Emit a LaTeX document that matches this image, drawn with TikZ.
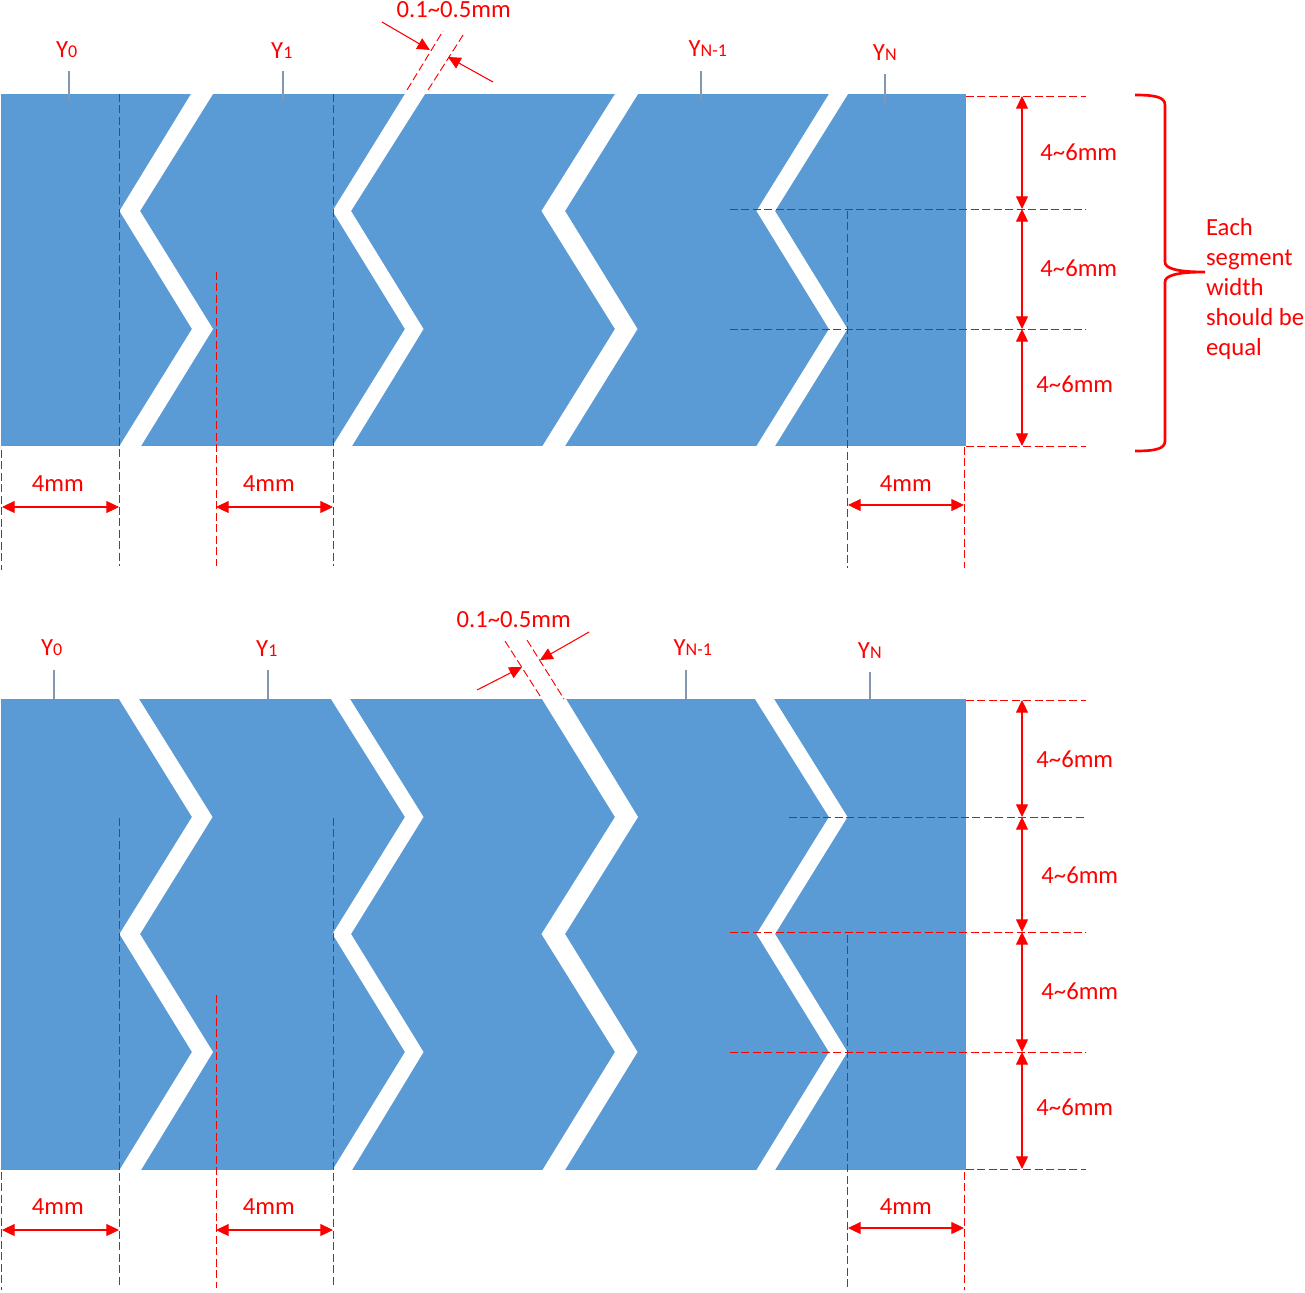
\documentclass[tikz,border=0pt]{standalone}
\usepackage{fontspec}
\setmainfont{Carlito}
\usetikzlibrary{arrows.meta}
\definecolor{StripBlue}{HTML}{5B9BD5}
\definecolor{TickGray}{HTML}{8497B0}
\definecolor{DimRed}{rgb}{1.0,0.0,0.0}
\newcommand{\ysub}[1]{Y{\fontsize{13.5pt}{13.5pt}\selectfont #1}}
\newcommand{\dtilde}{\textasciitilde}
\tikzset{
  lab/.style={text=DimRed,inner sep=0pt,xshift=.6pt,yshift=-.5pt,font=\fontsize{18.5pt}{22.5pt}\selectfont},
  leader/.style={DimRed,line width=.7pt,dash pattern=on 6pt off 2.6pt},
  dim/.style={DimRed,line width=.8pt,{Triangle[length=9.5pt,width=9pt]}-{Triangle[length=9.5pt,width=9pt]}},
  pointer/.style={DimRed,line width=.8pt,-{Triangle[length=9.5pt,width=9pt]}},
  ytick/.style={TickGray,line width=1.1pt},
}

\begin{document}
\begin{tikzpicture}[x=.75pt,y=-.75pt]
\useasboundingbox (0,0) rectangle (1305,1292);

% strips
\fill[StripBlue] (1,94) rectangle (966,446);
\fill[StripBlue] (1,699) rectangle (966,1170);

% gaps of the upper strip
\fill[white] (191,94) -- (119.5,211) -- (192,329) -- (119.5,446) -- (141,446) -- (213,329) -- (140,211) -- (213,94) -- cycle;
\fill[white] (405,94) -- (332.5,211) -- (405,329) -- (332.5,446) -- (352,446) -- (423.5,329) -- (351,211) -- (425,94) -- cycle;
\fill[white] (615,94) -- (541.5,211) -- (615,329) -- (542.5,446) -- (565,446) -- (637.5,329) -- (565,211) -- (638,94) -- cycle;
\fill[white] (829,94) -- (756.5,211) -- (829,329) -- (756.5,446) -- (775,446) -- (847.5,329) -- (775,211) -- (848,94) -- cycle;

% gaps of the lower strip
\fill[white] (119,699) -- (192,817) -- (119.5,934) -- (192,1052) -- (119.5,1170) -- (141,1170) -- (213,1052) -- (140,934) -- (212.5,817) -- (139,699) -- cycle;
\fill[white] (331,699) -- (405,817) -- (332.5,934) -- (405,1052) -- (332.5,1170) -- (352,1170) -- (423.5,1052) -- (351,934) -- (423.5,817) -- (350,699) -- cycle;
\fill[white] (542,699) -- (615,817) -- (541.5,934) -- (615,1052) -- (542.5,1170) -- (565,1170) -- (637.5,1052) -- (565,934) -- (638,817) -- (566,699) -- cycle;
\fill[white] (755,699) -- (829,817) -- (756.5,934) -- (829,1052) -- (756.5,1170) -- (775,1170) -- (847.5,1052) -- (775,934) -- (847.5,817) -- (774,699) -- cycle;

% vertical leaders
\foreach \i/\x/\ya/\yb in {a/1.5/450/570,b/119/94/566,c/333/94/566,d/216/272/566,e/847.5/211/568,f/964/447/568,
  g/1.5/1172/1290,h/119/818/1288,k/333/818/1288,l/216/995/1288,m/847.5/935/1288,n/964/1172/1290}{
  \coordinate (v\i1) at (\x,\ya);
  \coordinate (v\i2) at (\x,\yb);
  \draw[leader] (v\i1) -- (v\i2);
}

% horizontal leaders
\foreach \i/\xa/\y in {a/966/96,b/730/209,c/730/329,d/966/446,e/966/700,f/789/817,g/730/932,h/730/1052,k/966/1169}{
  \coordinate (h\i1) at (\xa,\y);
  \coordinate (h\i2) at (1086,\y);
  \draw[leader] (h\i1) -- (h\i2);
}

% height dimensions
\foreach \i/\ya/\yb/\lx/\ly in {a/96/209/1078/152,b/209/329/1078/268,c/329/446/1074/384,
  d/700/817/1074/759,e/817/932/1079/875,f/932/1052/1079/991,g/1052/1169/1074/1107}{
  \coordinate (ht\i1) at (1022,\ya);
  \coordinate (ht\i2) at (1022,\yb);
  \draw[dim] (ht\i1) -- (ht\i2);
  \node[lab] (htl\i) at (\lx,\ly) {4\dtilde6mm};
}

% width dimensions
\foreach \i/\xa/\xb/\y/\lx/\ly in {a/2/119/507/57/483,b/216/333/507/268/483,c/848/964/505/905/483,
  d/2/119/1230/57/1206,e/216/333/1230/268/1206,f/848/964/1228/905/1206}{
  \coordinate (wd\i1) at (\xa,\y);
  \coordinate (wd\i2) at (\xb,\y);
  \draw[dim] (wd\i1) -- (wd\i2);
  \node[lab] (wdl\i) at (\lx,\ly) {4mm};
}

% segment names and ticks
\foreach \i/\name/\lx/\ly/\tx/\tya/\tyb in {a/0/66/49/69/71/101,b/1/281/50/283/71/101,c/N-1/707/48/701/71/101,d/N/884/52/885/74/103,
  e/0/51/647/54/670/699,f/1/266/648/268/670/699,g/N-1/692/647/686/670/699,h/N/869/650/870/672/699}{
  \node[lab] (y\i) at (\lx,\ly) {\ysub{\name}};
  \coordinate (t\i1) at (\tx,\tya);
  \coordinate (t\i2) at (\tx,\tyb);
  \draw[ytick] (t\i1) -- (t\i2);
}

% gap width, upper strip
\node[lab] (gapA) at (453,9) {0.1\dtilde0.5mm};
\coordinate (gA1) at (407,90);
\coordinate (gA2) at (443,31);
\coordinate (gA3) at (428,90);
\coordinate (gA4) at (465,32);
\draw[leader] (gA1) -- (gA2);
\draw[leader] (gA3) -- (gA4);
\coordinate (pA1) at (382,22);
\coordinate (pA2) at (430,50);
\coordinate (pA3) at (493,82);
\coordinate (pA4) at (448,57);
\draw[pointer] (pA1) -- (pA2);
\draw[pointer] (pA3) -- (pA4);

% gap width, lower strip
\node[lab] (gapB) at (513,619) {0.1\dtilde0.5mm};
\coordinate (gB1) at (505,641);
\coordinate (gB2) at (542,699);
\coordinate (gB3) at (527,640);
\coordinate (gB4) at (564,699);
\draw[leader] (gB1) -- (gB2);
\draw[leader] (gB3) -- (gB4);
\coordinate (pB1) at (477,690);
\coordinate (pB2) at (522,667);
\coordinate (pB3) at (589,632);
\coordinate (pB4) at (540,660);
\draw[pointer] (pB1) -- (pB2);
\draw[pointer] (pB3) -- (pB4);

% brace
\draw[DimRed,line width=2pt] (1135,95) .. controls (1155,95) and (1165,97) .. (1165,105) -- (1165,262)
  .. controls (1165,268) and (1175,272) .. (1205,272) .. controls (1175,272) and (1165,276) .. (1165,282)
  -- (1165,441) .. controls (1165,449) and (1155,451) .. (1135,451);
\node[lab,align=left,anchor=west] (note) at (1205,288) {Each\\segment\\width\\should be\\equal};

\end{tikzpicture}
\end{document}
